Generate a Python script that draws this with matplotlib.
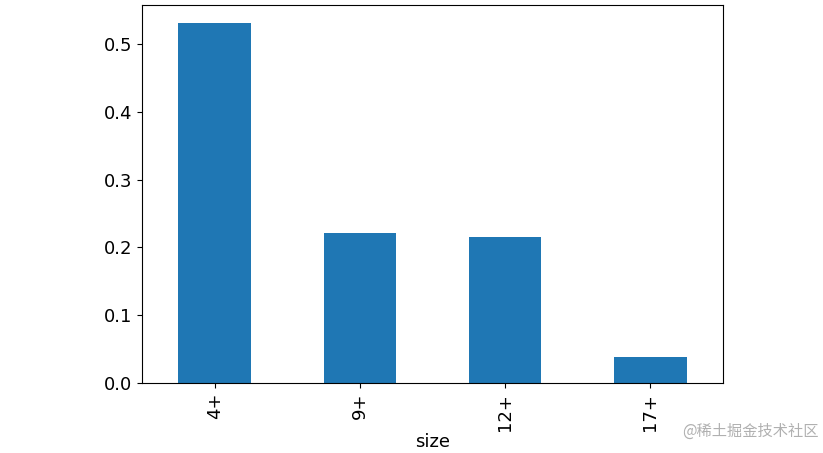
import matplotlib.pyplot as plt
import numpy as np

# bar chart of share by size group
sizes = ['4+', '9+', '12+', '17+']
shares = [0.531, 0.221, 0.215, 0.038]

fig = plt.figure(figsize=(8.23, 4.53), dpi=100)
ax = fig.add_axes([0.1725, 0.1545, 0.706, 0.8345])
x = np.arange(len(sizes))
ax.bar(x, shares, width=0.5, color='#1f77b4')
ax.set_xlim(-0.5, len(sizes) - 0.5)
ax.set_ylim(0, max(shares) * 1.05)
ax.set_xticks(x)
ax.set_xticklabels(sizes, rotation=90, fontsize=13)
ax.tick_params(axis='y', labelsize=13)
ax.set_xlabel('size', fontsize=13, labelpad=2)

fig.text(0.995, 0.03, '@稀土掘金技术社区', ha='right', va='bottom', fontsize=11,
         color='#b0b0b0', family=['Noto Sans CJK SC', 'DejaVu Sans'])

fig.savefig('out.png', dpi=100)
